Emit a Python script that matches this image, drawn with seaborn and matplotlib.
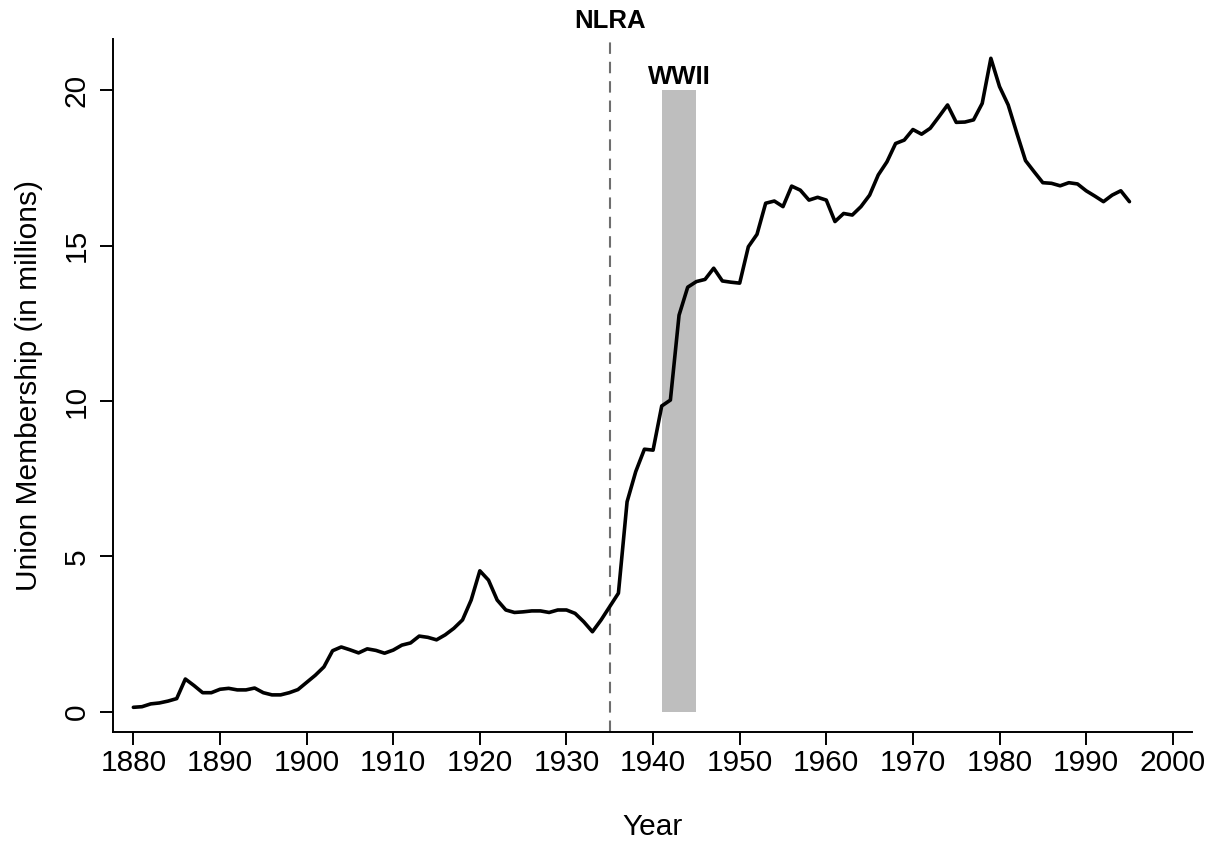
import numpy as np
import pandas as pd
import matplotlib
matplotlib.use("Agg")
import matplotlib.pyplot as plt
import seaborn as sns

# union membership in millions, 1880-1995
years = list(range(1880, 1996))
members = [
    0.15, 0.17, 0.26, 0.29, 0.35, 0.43, 1.06, 0.85, 0.62, 0.62,      # 1880s
    0.73, 0.76, 0.71, 0.71, 0.77, 0.62, 0.55, 0.55, 0.62, 0.72,      # 1890s
    0.95, 1.18, 1.45, 1.97, 2.09, 2.00, 1.90, 2.03, 1.98, 1.89,      # 1900s
    1.99, 2.15, 2.22, 2.44, 2.40, 2.32, 2.48, 2.69, 2.96, 3.60,      # 1910s
    4.54, 4.24, 3.60, 3.28, 3.20, 3.22, 3.25, 3.25, 3.20, 3.28,      # 1920s
    3.28, 3.17, 2.90, 2.58, 2.96, 3.39, 3.82, 6.76, 7.73, 8.45,      # 1930s
    8.42, 9.84, 10.03, 12.76, 13.66, 13.84, 13.91, 14.27, 13.86, 13.82,  # 1940s
    13.79, 14.96, 15.36, 16.36, 16.43, 16.25, 16.91, 16.78, 16.46, 16.55,  # 1950s
    16.46, 15.77, 16.03, 15.98, 16.25, 16.62, 17.27, 17.69, 18.28, 18.39,  # 1960s
    18.73, 18.58, 18.77, 19.14, 19.52, 18.96, 18.97, 19.04, 19.57, 21.02,  # 1970s
    20.11, 19.52, 18.61, 17.73, 17.37, 17.02, 17.00, 16.92, 17.02, 16.98,  # 1980s
    16.76, 16.59, 16.41, 16.62, 16.76, 16.41,                          # 1990s
]
df = pd.DataFrame({"year": years, "members": members})

nlra_year = 1935
wwii_start, wwii_end = 1941, 1945
wwii_top = 20
x_ticks = list(range(1880, 2001, 10))
y_ticks = [0, 5, 10, 15, 20]

sns.set_style("ticks")
plt.rcParams["font.family"] = ["Liberation Sans", "DejaVu Sans"]
plt.rcParams.update({"text.color": "black", "axes.labelcolor": "black",
                     "xtick.color": "black", "ytick.color": "black"})

fig = plt.figure(figsize=(12.19, 8.44), dpi=100)
ax = fig.add_axes([0.0925, 0.1331, 0.8852, 0.8203])

# WWII band and NLRA line
ax.fill_between([wwii_start, wwii_end], 0, wwii_top, color="#bebebe", lw=0, zorder=1)
ax.axvline(nlra_year, color="#6e6e6e", lw=1.5, linestyle=(0, (5.5, 3.8)), zorder=2)

sns.lineplot(data=df, x="year", y="members", color="black", lw=2.6, ax=ax, zorder=3)

ax.text(nlra_year, 21.98, "NLRA", ha="center", va="baseline", fontsize=18.5,
        fontweight="bold", clip_on=False)
ax.text((wwii_start + wwii_end) / 2, 20.2, "WWII", ha="center", va="baseline",
        fontsize=18.5, fontweight="bold")

ax.set_xlim(1877.62, 2002.2)
ax.set_ylim(-0.633, 21.63)
ax.set_xticks(x_ticks)
ax.set_yticks(y_ticks)
ax.set_xlabel("Year", fontsize=21.5, labelpad=26)
ax.set_ylabel("Union Membership (in millions)", fontsize=21.5, labelpad=14)
ax.tick_params(axis="both", labelsize=21.5, length=9.4, width=1.4, color="black")
ax.tick_params(axis="x", pad=3)
ax.tick_params(axis="y", pad=6.5)
for lab in ax.get_yticklabels():
    lab.set_rotation(90)
    lab.set_va("center")

sns.despine(ax=ax)
for s in ["left", "bottom"]:
    ax.spines[s].set_linewidth(1.4)
    ax.spines[s].set_color("black")

fig.savefig("out.png", dpi=100)
